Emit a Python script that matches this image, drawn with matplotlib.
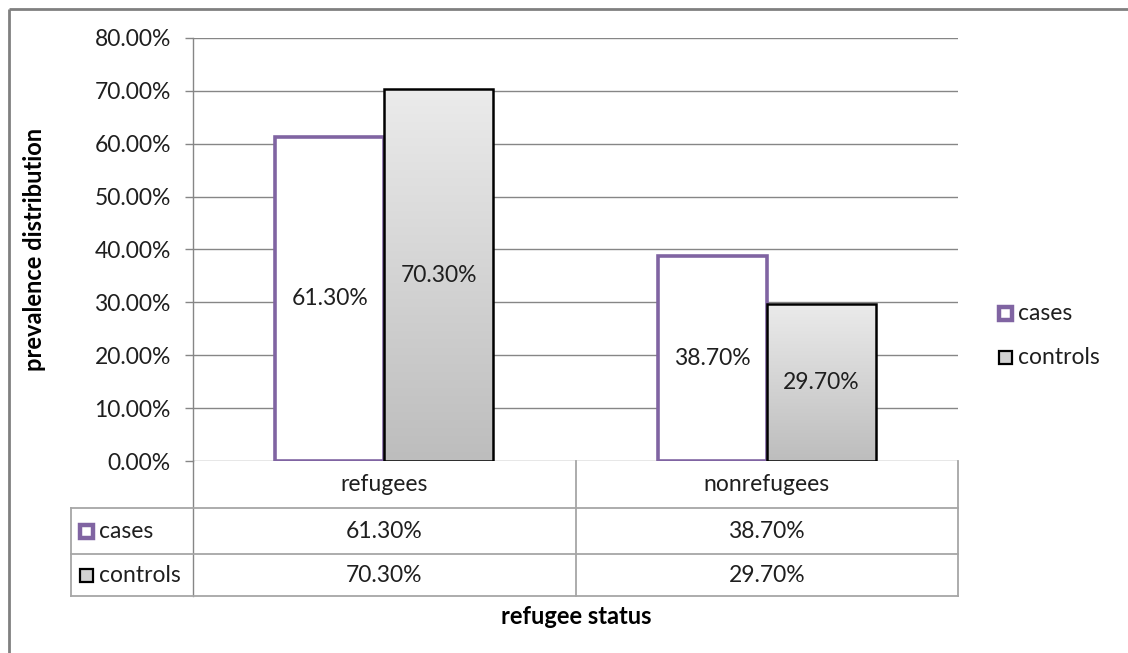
import numpy as np
import matplotlib
matplotlib.use("Agg")
import matplotlib.pyplot as plt
from matplotlib.patches import Rectangle

plt.rcParams["font.family"] = ["Lato", "DejaVu Sans"]

# data
categories = ["refugees", "nonrefugees"]
series = ["cases", "controls"]
cases = [61.3, 38.7]
controls = [70.3, 29.7]
yticks = [0, 10, 20, 30, 40, 50, 60, 70, 80]

W, H = 1128, 653
PURPLE = "#8064A2"
GRID = "#868686"
TLINE = "#A6A6A6"
TXT = "#1F1F1F"
FS = 16.5


def fx(x):
    return x / W


def fy(y):
    return 1 - y / H


fig = plt.figure(figsize=(W / 100, H / 100), dpi=100)
fig.patch.set_facecolor("white")

# plot area in pixel coords
L, R, T, B = 193, 958, 38, 461
ax = fig.add_axes([fx(L), fy(B), (R - L) / W, (B - T) / H])
ax.patch.set_alpha(0)

x = np.arange(len(categories))
w = 0.285
ax.set_xlim(-0.5, len(categories) - 0.5)
ax.set_ylim(0, 80)

ax.bar(x - w / 2, cases, w, facecolor="white", edgecolor=PURPLE,
       linewidth=2.6, zorder=3)
ctrl = ax.bar(x + w / 2, controls, w, facecolor="none", edgecolor="black",
              linewidth=1.8, zorder=5)

# gradient fill for controls
grad = np.linspace(0, 1, 256).reshape(-1, 1)
cmap = matplotlib.colors.LinearSegmentedColormap.from_list(
    "g", ["#BDBDBD", "#EBEBEB"])
for b in ctrl:
    x0, y0 = b.get_x(), b.get_y()
    im = ax.imshow(grad, cmap=cmap, origin="lower", aspect="auto",
                   extent=(x0, x0 + b.get_width(), y0, y0 + b.get_height()),
                   zorder=4)
    clip = Rectangle((x0, y0), b.get_width(), b.get_height(),
                     transform=ax.transData)
    im.set_clip_path(clip)
ax.set_xlim(-0.5, len(categories) - 0.5)
ax.set_ylim(0, 80)

# value labels inside bars
for xi, v in zip(x - w / 2, cases):
    ax.text(xi, v / 2, f"{v:.2f}%", ha="center", va="center",
            fontsize=FS, color=TXT, zorder=6)
for xi, v in zip(x + w / 2, controls):
    ax.text(xi, v / 2, f"{v:.2f}%", ha="center", va="center",
            fontsize=FS, color=TXT, zorder=6)

ax.set_yticks(yticks)
ax.set_yticklabels([f"{t:.2f}%" for t in yticks], fontsize=FS, color=TXT)
ax.tick_params(axis="y", length=6, width=1, color=GRID, pad=10)
ax.set_xticks([])
ax.yaxis.grid(True, color=GRID, linewidth=1)
ax.set_axisbelow(True)
for s in ["top", "right", "bottom"]:
    ax.spines[s].set_visible(False)
ax.spines["left"].set_color(GRID)
ax.spines["left"].set_linewidth(1)

# overlay for table, legend and frame (pixel coordinates)
ov = fig.add_axes([0, 0, 1, 1], zorder=10)
ov.set_xlim(0, W)
ov.set_ylim(H, 0)
ov.axis("off")
ov.patch.set_alpha(0)

# outer frame (top & left)
ov.plot([9, W], [9, 9], color="#808080", lw=2, solid_capstyle="butt")
ov.plot([9, 9], [9, H], color="#808080", lw=2, solid_capstyle="butt")

# data table
col_edges = [L, (L + R) / 2, R]
row_y = [B, 508, 554, 596]
lab_x = 71
ov.plot([L, L], [B, row_y[-1]], color=GRID, lw=1)
for y in row_y[1:]:
    ov.plot([lab_x, R], [y, y], color=TLINE, lw=1.3)
for xe in col_edges[1:]:
    ov.plot([xe, xe], [B, row_y[-1]], color=TLINE, lw=1.3)
ov.plot([lab_x, lab_x], [row_y[1], row_y[-1]], color=TLINE, lw=1.3)

col_c = [(col_edges[i] + col_edges[i + 1]) / 2 for i in range(len(categories))]
for cx, cat in zip(col_c, categories):
    ov.text(cx, (row_y[0] + row_y[1]) / 2, cat, ha="center", va="center",
            fontsize=FS, color=TXT)
for r, vals in enumerate([cases, controls]):
    cy = (row_y[r + 1] + row_y[r + 2]) / 2
    for cx, v in zip(col_c, vals):
        ov.text(cx, cy, f"{v:.2f}%", ha="center", va="center",
                fontsize=FS, color=TXT)


def key(x0, cy, name):
    if name == "cases":
        ov.add_patch(Rectangle((x0 + 1.5, cy - 6.5), 13, 13, facecolor="white",
                               edgecolor=PURPLE, lw=3.2))
    else:
        ov.add_patch(Rectangle((x0 + 1.5, cy - 6.5), 13, 13, facecolor="#D2D2D2",
                               edgecolor="black", lw=1.6))


for r, name in enumerate(series):
    cy = (row_y[r + 1] + row_y[r + 2]) / 2
    key(78, cy, name)
    ov.text(99, cy, name, ha="left", va="center", fontsize=FS, color=TXT,
            clip_on=True)

# legend on the right
for cy, name in zip([313, 357], series):
    key(997, cy, name)
    ov.text(1018, cy, name, ha="left", va="center", fontsize=FS, color=TXT)

# axis titles
fig.text(fx(35), fy(249), "prevalence distribution", rotation=90,
         ha="center", va="center", fontsize=17, fontweight="bold", color="black")
fig.text(fx(576), fy(617), "refugee status", ha="center", va="center",
         fontsize=17, fontweight="bold", color="black")

fig.savefig("out.png", dpi=100)
